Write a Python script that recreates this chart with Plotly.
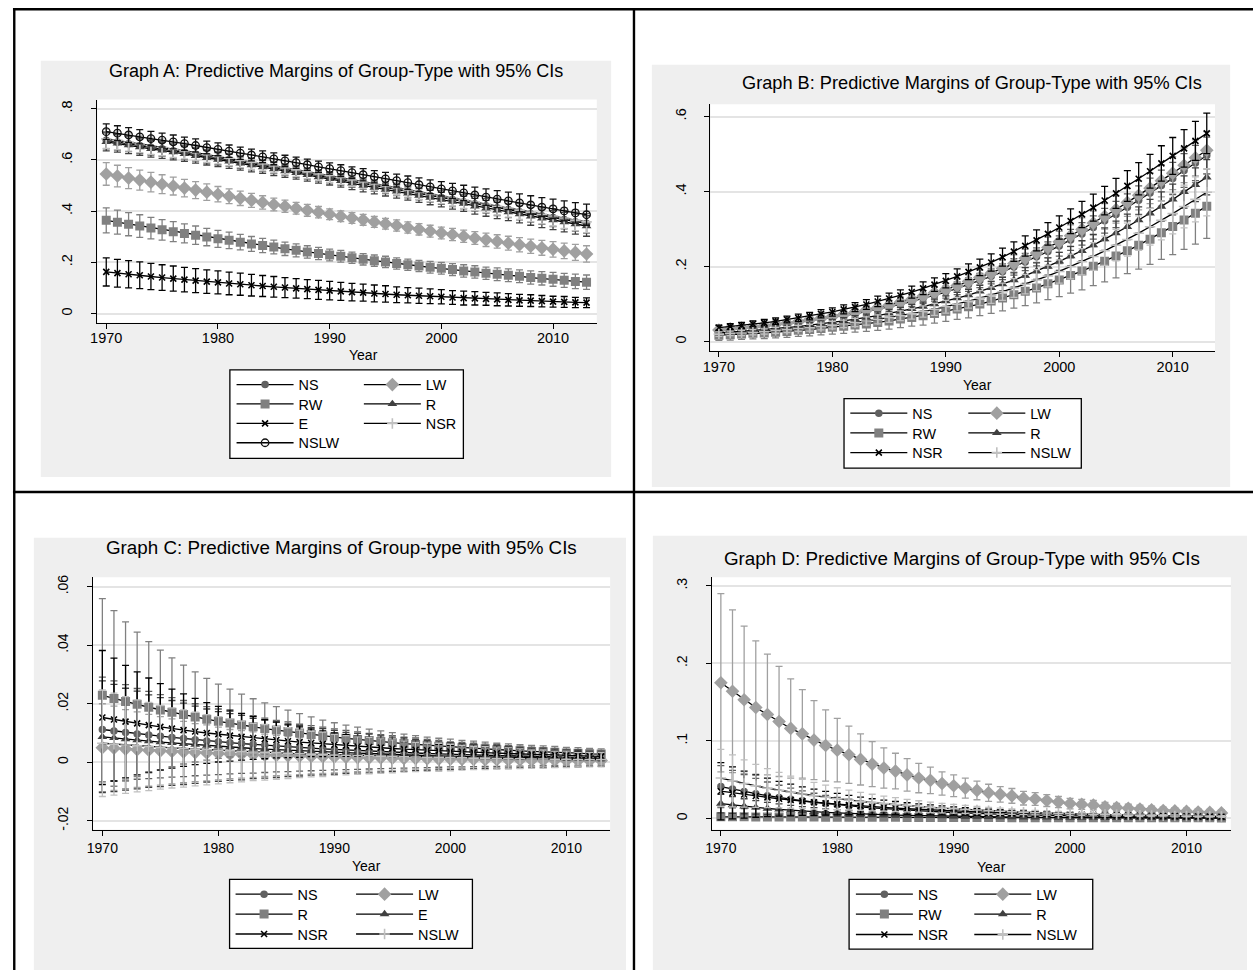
import plotly.graph_objects as go

W, H = 1253, 971
FONT = "Liberation Sans, Arial, Helvetica, sans-serif"

YEARS = list(range(1970, 2014))
X_TICKS = [1970, 1980, 1990, 2000, 2010]
X_TICKTEXT = ["1970", "1980", "1990", "2000", "2010"]

# ---------------- Graph A ----------------
A_NAMES = ["NS", "LW", "RW", "R", "E", "NSR", "NSLW"]
A_NS = [0.676,0.670,0.663,0.656,0.649,0.643,0.636,0.629,0.622,0.614,0.607,0.600,0.592,0.585,0.578,0.570,0.562,0.555,0.547,0.539,0.532,0.524,0.516,0.508,0.500,0.492,0.485,0.477,0.469,0.461,0.453,0.445,0.437,0.429,0.421,0.413,0.406,0.398,0.390,0.382,0.375,0.367,0.359,0.352]
A_NS_CI = [0.033,0.032,0.031,0.031,0.030,0.029,0.029,0.028,0.027,0.027,0.026,0.025,0.025,0.024,0.024,0.023,0.023,0.023,0.022,0.022,0.022,0.022,0.023,0.023,0.023,0.024,0.024,0.025,0.025,0.026,0.027,0.027,0.028,0.029,0.029,0.030,0.031,0.032,0.033,0.034,0.035,0.036,0.037,0.038]
A_LW = [0.545,0.537,0.529,0.521,0.513,0.505,0.498,0.490,0.482,0.474,0.466,0.458,0.450,0.442,0.434,0.426,0.419,0.411,0.403,0.396,0.388,0.380,0.373,0.366,0.358,0.351,0.344,0.336,0.329,0.322,0.315,0.309,0.302,0.295,0.288,0.282,0.275,0.269,0.263,0.257,0.251,0.245,0.239,0.233]
A_LW_CI = [0.044,0.042,0.041,0.039,0.038,0.037,0.035,0.034,0.033,0.032,0.030,0.029,0.028,0.027,0.026,0.025,0.024,0.023,0.023,0.022,0.021,0.021,0.021,0.021,0.021,0.021,0.022,0.022,0.022,0.023,0.023,0.024,0.024,0.025,0.026,0.026,0.027,0.028,0.028,0.029,0.030,0.030,0.031,0.032]
A_RW = [0.364,0.357,0.349,0.342,0.334,0.327,0.320,0.313,0.306,0.299,0.292,0.286,0.279,0.272,0.266,0.260,0.253,0.247,0.241,0.235,0.229,0.224,0.218,0.212,0.207,0.202,0.196,0.191,0.186,0.181,0.177,0.172,0.167,0.163,0.158,0.154,0.150,0.146,0.141,0.138,0.134,0.130,0.126,0.123]
A_RW_CI = [0.049,0.047,0.045,0.044,0.042,0.040,0.039,0.037,0.036,0.034,0.033,0.032,0.030,0.029,0.028,0.027,0.026,0.025,0.024,0.024,0.023,0.023,0.022,0.022,0.022,0.022,0.022,0.022,0.022,0.023,0.023,0.023,0.024,0.024,0.024,0.025,0.025,0.025,0.026,0.026,0.027,0.027,0.028,0.028]
A_R = [0.670,0.664,0.657,0.650,0.643,0.637,0.630,0.623,0.616,0.608,0.601,0.594,0.586,0.579,0.572,0.564,0.556,0.549,0.541,0.533,0.526,0.518,0.508,0.500,0.492,0.484,0.477,0.469,0.461,0.453,0.445,0.437,0.429,0.419,0.411,0.403,0.396,0.388,0.380,0.372,0.365,0.357,0.349,0.342]
A_R_CI = [0.035,0.034,0.033,0.032,0.032,0.031,0.030,0.029,0.029,0.028,0.027,0.027,0.026,0.026,0.025,0.025,0.024,0.024,0.024,0.024,0.024,0.024,0.024,0.025,0.025,0.025,0.026,0.026,0.027,0.028,0.028,0.029,0.030,0.031,0.031,0.032,0.033,0.034,0.035,0.036,0.037,0.038,0.039,0.040]
A_E = [0.163,0.158,0.154,0.150,0.145,0.141,0.137,0.133,0.129,0.125,0.122,0.118,0.115,0.111,0.108,0.105,0.102,0.099,0.096,0.093,0.090,0.087,0.084,0.082,0.079,0.077,0.074,0.072,0.070,0.068,0.066,0.063,0.061,0.060,0.058,0.056,0.054,0.052,0.051,0.049,0.047,0.046,0.044,0.043]
A_E_CI = [0.055,0.054,0.053,0.052,0.051,0.050,0.049,0.048,0.047,0.046,0.045,0.044,0.043,0.042,0.041,0.040,0.039,0.038,0.037,0.037,0.036,0.035,0.034,0.033,0.033,0.032,0.031,0.030,0.030,0.029,0.028,0.027,0.027,0.026,0.025,0.025,0.024,0.023,0.023,0.022,0.021,0.021,0.020,0.019]
A_NSR = [0.682,0.676,0.669,0.662,0.655,0.649,0.642,0.635,0.628,0.620,0.613,0.606,0.598,0.591,0.584,0.576,0.568,0.561,0.553,0.545,0.538,0.530,0.522,0.514,0.506,0.498,0.491,0.483,0.475,0.467,0.459,0.451,0.443,0.435,0.427,0.419,0.412,0.404,0.396,0.388,0.381,0.373,0.365,0.358]
A_NSR_CI = [0.037,0.036,0.035,0.034,0.034,0.033,0.032,0.031,0.031,0.030,0.029,0.029,0.028,0.028,0.027,0.027,0.026,0.026,0.026,0.026,0.026,0.026,0.026,0.027,0.027,0.027,0.028,0.028,0.029,0.030,0.030,0.031,0.032,0.033,0.033,0.034,0.035,0.036,0.037,0.038,0.039,0.040,0.041,0.042]
A_NSLW = [0.710,0.704,0.697,0.690,0.683,0.677,0.670,0.663,0.656,0.648,0.641,0.634,0.626,0.619,0.612,0.604,0.596,0.589,0.581,0.573,0.566,0.558,0.550,0.542,0.534,0.526,0.519,0.511,0.503,0.495,0.487,0.479,0.471,0.463,0.455,0.447,0.440,0.432,0.424,0.416,0.409,0.401,0.393,0.386]
A_NSLW_CI = [0.030,0.029,0.029,0.028,0.028,0.027,0.027,0.026,0.026,0.025,0.025,0.024,0.024,0.023,0.023,0.023,0.022,0.022,0.022,0.022,0.022,0.023,0.023,0.024,0.024,0.025,0.025,0.026,0.027,0.027,0.028,0.029,0.030,0.031,0.032,0.033,0.034,0.035,0.036,0.037,0.038,0.039,0.040,0.041]

# ---------------- Graph B ----------------
B_NAMES = ["NS", "LW", "RW", "R", "NSR", "NSLW"]
B_NS = [0.029,0.032,0.034,0.037,0.040,0.043,0.047,0.051,0.055,0.059,0.064,0.069,0.074,0.080,0.086,0.092,0.099,0.107,0.115,0.123,0.132,0.142,0.152,0.163,0.174,0.186,0.199,0.212,0.226,0.240,0.255,0.271,0.287,0.304,0.322,0.339,0.358,0.377,0.396,0.416,0.435,0.456,0.476,0.496]
B_NS_CI = [0.007,0.007,0.007,0.007,0.008,0.008,0.008,0.009,0.009,0.009,0.010,0.010,0.011,0.011,0.012,0.012,0.013,0.014,0.014,0.015,0.016,0.017,0.018,0.019,0.020,0.021,0.022,0.023,0.024,0.026,0.027,0.028,0.030,0.031,0.033,0.035,0.036,0.038,0.040,0.041,0.043,0.045,0.047,0.049]
B_LW = [0.031,0.034,0.036,0.039,0.042,0.046,0.049,0.053,0.058,0.062,0.067,0.072,0.078,0.084,0.090,0.097,0.105,0.112,0.121,0.130,0.139,0.149,0.160,0.171,0.182,0.195,0.208,0.222,0.236,0.251,0.266,0.282,0.299,0.316,0.334,0.352,0.371,0.390,0.409,0.429,0.449,0.470,0.490,0.510]
B_LW_CI = [0.007,0.007,0.007,0.008,0.008,0.008,0.008,0.009,0.009,0.010,0.010,0.011,0.011,0.012,0.012,0.013,0.014,0.014,0.015,0.016,0.017,0.017,0.018,0.019,0.020,0.022,0.023,0.024,0.025,0.027,0.028,0.029,0.031,0.032,0.034,0.036,0.037,0.039,0.041,0.043,0.044,0.046,0.048,0.050]
B_RW = [0.017,0.018,0.020,0.022,0.023,0.025,0.027,0.030,0.032,0.035,0.038,0.041,0.044,0.047,0.051,0.055,0.060,0.064,0.069,0.075,0.081,0.087,0.093,0.100,0.108,0.116,0.125,0.134,0.143,0.154,0.164,0.176,0.188,0.201,0.214,0.228,0.242,0.257,0.273,0.290,0.307,0.324,0.342,0.361]
B_RW_CI = [0.014,0.014,0.014,0.015,0.015,0.015,0.016,0.016,0.017,0.017,0.018,0.019,0.019,0.020,0.021,0.022,0.023,0.023,0.025,0.026,0.027,0.028,0.030,0.031,0.033,0.034,0.036,0.038,0.040,0.042,0.044,0.047,0.050,0.052,0.055,0.058,0.061,0.064,0.067,0.071,0.075,0.078,0.082,0.086]
B_R = [0.023,0.025,0.027,0.030,0.032,0.035,0.037,0.040,0.044,0.047,0.051,0.055,0.060,0.064,0.069,0.075,0.080,0.087,0.093,0.100,0.108,0.116,0.124,0.134,0.143,0.153,0.164,0.176,0.188,0.200,0.214,0.228,0.242,0.257,0.273,0.289,0.306,0.324,0.342,0.360,0.379,0.399,0.418,0.438]
B_R_CI = [0.005,0.006,0.006,0.006,0.006,0.007,0.007,0.007,0.007,0.008,0.008,0.009,0.009,0.009,0.010,0.011,0.011,0.012,0.012,0.013,0.014,0.015,0.015,0.016,0.017,0.018,0.019,0.021,0.022,0.023,0.024,0.026,0.027,0.029,0.030,0.032,0.034,0.035,0.037,0.039,0.041,0.043,0.045,0.047]
B_NSR = [0.037,0.040,0.043,0.047,0.050,0.054,0.059,0.063,0.068,0.074,0.079,0.086,0.092,0.099,0.107,0.115,0.123,0.132,0.142,0.152,0.162,0.174,0.186,0.198,0.211,0.225,0.240,0.255,0.270,0.287,0.304,0.321,0.339,0.357,0.376,0.395,0.415,0.434,0.454,0.475,0.495,0.515,0.535,0.555]
B_NSR_CI = [0.007,0.008,0.008,0.008,0.009,0.009,0.009,0.010,0.010,0.011,0.011,0.012,0.012,0.013,0.014,0.014,0.015,0.016,0.017,0.018,0.019,0.020,0.021,0.022,0.023,0.024,0.026,0.027,0.028,0.030,0.031,0.033,0.035,0.036,0.038,0.040,0.041,0.043,0.045,0.047,0.049,0.050,0.052,0.054]
B_NSLW = [0.020,0.022,0.023,0.025,0.027,0.030,0.032,0.035,0.037,0.040,0.044,0.047,0.051,0.055,0.059,0.064,0.069,0.074,0.080,0.086,0.093,0.100,0.108,0.116,0.124,0.133,0.143,0.153,0.164,0.175,0.187,0.200,0.213,0.227,0.242,0.257,0.272,0.289,0.306,0.323,0.341,0.360,0.379,0.398]
B_NSLW_CI = [0.006,0.006,0.007,0.007,0.007,0.008,0.008,0.008,0.009,0.009,0.010,0.010,0.011,0.011,0.012,0.013,0.013,0.014,0.015,0.016,0.017,0.018,0.019,0.020,0.022,0.023,0.025,0.026,0.028,0.029,0.031,0.033,0.035,0.037,0.039,0.042,0.044,0.046,0.049,0.052,0.054,0.057,0.060,0.063]

# ---------------- Graph C ----------------
C_NAMES = ["NS", "LW", "R", "E", "NSR", "NSLW"]
C_NS = [0.0112,0.0107,0.0102,0.0097,0.0093,0.0089,0.0085,0.0081,0.0077,0.0073,0.0070,0.0067,0.0064,0.0061,0.0058,0.0055,0.0053,0.0050,0.0048,0.0046,0.0044,0.0042,0.0040,0.0038,0.0036,0.0035,0.0033,0.0032,0.0030,0.0029,0.0027,0.0026,0.0025,0.0024,0.0023,0.0022,0.0021,0.0020,0.0019,0.0018,0.0017,0.0016,0.0016,0.0015]
C_NS_CI = [0.0179,0.0171,0.0163,0.0155,0.0149,0.0142,0.0136,0.0130,0.0123,0.0117,0.0112,0.0107,0.0102,0.0098,0.0093,0.0088,0.0085,0.0080,0.0077,0.0074,0.0070,0.0067,0.0064,0.0061,0.0058,0.0056,0.0053,0.0051,0.0048,0.0046,0.0043,0.0042,0.0040,0.0038,0.0037,0.0035,0.0034,0.0032,0.0030,0.0029,0.0027,0.0026,0.0026,0.0024]
C_LW = [0.0050,0.0048,0.0045,0.0043,0.0041,0.0039,0.0037,0.0035,0.0033,0.0032,0.0030,0.0028,0.0027,0.0026,0.0024,0.0023,0.0022,0.0021,0.0020,0.0019,0.0018,0.0017,0.0016,0.0015,0.0015,0.0014,0.0013,0.0013,0.0012,0.0011,0.0011,0.0010,0.0010,0.0009,0.0009,0.0008,0.0008,0.0007,0.0007,0.0007,0.0006,0.0006,0.0006,0.0006]
C_LW_CI = [0.0150,0.0144,0.0135,0.0129,0.0123,0.0117,0.0111,0.0105,0.0099,0.0096,0.0090,0.0084,0.0081,0.0078,0.0072,0.0069,0.0066,0.0063,0.0060,0.0057,0.0054,0.0051,0.0048,0.0045,0.0045,0.0042,0.0039,0.0039,0.0036,0.0033,0.0033,0.0030,0.0030,0.0027,0.0027,0.0024,0.0024,0.0021,0.0021,0.0021,0.0018,0.0018,0.0018,0.0018]
C_R = [0.0229,0.0218,0.0208,0.0198,0.0188,0.0179,0.0171,0.0163,0.0155,0.0147,0.0140,0.0134,0.0127,0.0121,0.0115,0.0110,0.0105,0.0100,0.0095,0.0090,0.0086,0.0082,0.0078,0.0074,0.0071,0.0067,0.0064,0.0061,0.0058,0.0055,0.0053,0.0050,0.0048,0.0046,0.0043,0.0041,0.0039,0.0037,0.0036,0.0034,0.0032,0.0031,0.0029,0.0028]
C_R_CI = [0.0330,0.0300,0.0272,0.0247,0.0224,0.0204,0.0186,0.0169,0.0154,0.0140,0.0127,0.0116,0.0106,0.0096,0.0088,0.0080,0.0073,0.0066,0.0060,0.0054,0.0049,0.0045,0.0042,0.0039,0.0036,0.0034,0.0032,0.0030,0.0028,0.0027,0.0026,0.0025,0.0024,0.0023,0.0022,0.0022,0.0021,0.0021,0.0020,0.0020,0.0019,0.0019,0.0018,0.0018]
C_E = [0.0087,0.0083,0.0079,0.0076,0.0072,0.0069,0.0066,0.0063,0.0060,0.0057,0.0054,0.0052,0.0050,0.0047,0.0045,0.0043,0.0041,0.0039,0.0037,0.0036,0.0034,0.0032,0.0031,0.0030,0.0028,0.0027,0.0026,0.0024,0.0023,0.0022,0.0021,0.0020,0.0019,0.0018,0.0018,0.0017,0.0016,0.0015,0.0015,0.0014,0.0013,0.0013,0.0012,0.0012]
C_E_CI = [0.0191,0.0183,0.0174,0.0167,0.0158,0.0152,0.0145,0.0139,0.0132,0.0125,0.0119,0.0114,0.0110,0.0103,0.0099,0.0095,0.0090,0.0086,0.0081,0.0079,0.0075,0.0070,0.0068,0.0066,0.0062,0.0059,0.0057,0.0053,0.0051,0.0048,0.0046,0.0044,0.0042,0.0040,0.0040,0.0037,0.0035,0.0033,0.0033,0.0031,0.0029,0.0029,0.0026,0.0026]
C_NSR = [0.0153,0.0146,0.0139,0.0133,0.0127,0.0121,0.0115,0.0110,0.0105,0.0100,0.0096,0.0091,0.0087,0.0083,0.0079,0.0076,0.0072,0.0069,0.0066,0.0063,0.0060,0.0057,0.0054,0.0052,0.0050,0.0047,0.0045,0.0043,0.0041,0.0039,0.0037,0.0036,0.0034,0.0033,0.0031,0.0030,0.0028,0.0027,0.0026,0.0025,0.0023,0.0022,0.0021,0.0020]
C_NSR_CI = [0.0229,0.0210,0.0192,0.0176,0.0161,0.0148,0.0135,0.0124,0.0113,0.0104,0.0095,0.0087,0.0080,0.0073,0.0067,0.0061,0.0056,0.0052,0.0047,0.0044,0.0040,0.0037,0.0034,0.0032,0.0030,0.0028,0.0026,0.0025,0.0023,0.0022,0.0021,0.0020,0.0019,0.0018,0.0018,0.0017,0.0017,0.0016,0.0016,0.0015,0.0015,0.0015,0.0014,0.0014]
C_NSLW = [0.0065,0.0062,0.0059,0.0056,0.0054,0.0051,0.0049,0.0047,0.0045,0.0043,0.0041,0.0039,0.0037,0.0035,0.0034,0.0032,0.0031,0.0029,0.0028,0.0027,0.0025,0.0024,0.0023,0.0022,0.0021,0.0020,0.0019,0.0018,0.0017,0.0017,0.0016,0.0015,0.0014,0.0014,0.0013,0.0013,0.0012,0.0011,0.0011,0.0010,0.0010,0.0009,0.0009,0.0009]
C_NSLW_CI = [0.0182,0.0174,0.0165,0.0157,0.0151,0.0143,0.0137,0.0132,0.0126,0.0120,0.0115,0.0109,0.0104,0.0098,0.0095,0.0090,0.0087,0.0081,0.0078,0.0076,0.0070,0.0067,0.0064,0.0062,0.0059,0.0056,0.0053,0.0050,0.0048,0.0048,0.0045,0.0042,0.0039,0.0039,0.0036,0.0036,0.0034,0.0031,0.0031,0.0028,0.0028,0.0025,0.0025,0.0025]

# ---------------- Graph D ----------------
D_NAMES = ["NS", "LW", "RW", "R", "NSR", "NSLW"]
D_NS = [0.0410,0.0377,0.0346,0.0318,0.0292,0.0268,0.0246,0.0226,0.0208,0.0191,0.0175,0.0161,0.0148,0.0136,0.0125,0.0115,0.0105,0.0097,0.0089,0.0082,0.0075,0.0069,0.0063,0.0058,0.0053,0.0049,0.0045,0.0041,0.0038,0.0035,0.0032,0.0029,0.0027,0.0025,0.0023,0.0021,0.0019,0.0018,0.0016,0.0015,0.0014,0.0013,0.0012,0.0011]
D_NS_CI = [0.0270,0.0243,0.0219,0.0197,0.0177,0.0159,0.0143,0.0129,0.0116,0.0105,0.0094,0.0085,0.0076,0.0069,0.0062,0.0056,0.0050,0.0045,0.0041,0.0036,0.0033,0.0030,0.0027,0.0024,0.0022,0.0019,0.0017,0.0016,0.0014,0.0013,0.0011,0.0010,0.0009,0.0008,0.0008,0.0007,0.0006,0.0005,0.0005,0.0004,0.0004,0.0004,0.0003,0.0003]
D_LW = [0.175,0.164,0.153,0.143,0.134,0.125,0.116,0.109,0.101,0.094,0.088,0.082,0.076,0.070,0.065,0.061,0.056,0.052,0.049,0.045,0.042,0.039,0.036,0.033,0.031,0.029,0.026,0.025,0.023,0.021,0.019,0.018,0.017,0.015,0.014,0.013,0.012,0.011,0.010,0.0096,0.0089,0.0082,0.0076,0.0070]
D_LW_CI = [0.115,0.105,0.095,0.086,0.078,0.071,0.064,0.057,0.051,0.046,0.041,0.037,0.033,0.029,0.026,0.023,0.021,0.019,0.017,0.015,0.014,0.013,0.012,0.011,0.010,0.0095,0.0088,0.0082,0.0077,0.0072,0.0068,0.0064,0.0060,0.0057,0.0054,0.0052,0.0049,0.0047,0.0045,0.0043,0.0042,0.0041,0.0040,0.0039]
D_RW = [0.0020,0.0019,0.0019,0.0018,0.0018,0.0017,0.0017,0.0016,0.0016,0.0015,0.0015,0.0014,0.0014,0.0013,0.0013,0.0013,0.0012,0.0012,0.0012,0.0011,0.0011,0.0011,0.0010,0.0010,0.0010,0.0009,0.0009,0.0009,0.0009,0.0008,0.0008,0.0008,0.0008,0.0007,0.0007,0.0007,0.0007,0.0006,0.0006,0.0006,0.0006,0.0006,0.0006,0.0005]
D_RW_CI = [0.0025,0.0024,0.0024,0.0023,0.0022,0.0021,0.0021,0.0020,0.0020,0.0019,0.0018,0.0018,0.0017,0.0017,0.0016,0.0016,0.0015,0.0015,0.0014,0.0014,0.0014,0.0013,0.0013,0.0012,0.0012,0.0012,0.0011,0.0011,0.0011,0.0010,0.0010,0.0010,0.0009,0.0009,0.0009,0.0009,0.0008,0.0008,0.0008,0.0008,0.0007,0.0007,0.0007,0.0007]
D_R = [0.0190,0.0172,0.0156,0.0141,0.0127,0.0115,0.0104,0.0094,0.0085,0.0077,0.0070,0.0063,0.0057,0.0052,0.0047,0.0042,0.0038,0.0035,0.0031,0.0028,0.0026,0.0023,0.0021,0.0019,0.0017,0.0016,0.0014,0.0013,0.0012,0.0010,0.0009,0.0009,0.0008,0.0007,0.0006,0.0006,0.0005,0.0005,0.0004,0.0004,0.0003,0.0003,0.0003,0.0003]
D_R_CI = [0.0120,0.0108,0.0097,0.0087,0.0079,0.0071,0.0064,0.0057,0.0052,0.0046,0.0042,0.0038,0.0034,0.0031,0.0027,0.0025,0.0022,0.0020,0.0018,0.0016,0.0015,0.0013,0.0012,0.0011,0.0010,0.0009,0.0008,0.0007,0.0006,0.0006,0.0005,0.0005,0.0004,0.0004,0.0003,0.0003,0.0003,0.0002,0.0002,0.0002,0.0002,0.0002,0.0001,0.0001]
D_NSR = [0.0350,0.0328,0.0307,0.0288,0.0270,0.0253,0.0237,0.0222,0.0208,0.0195,0.0183,0.0171,0.0161,0.0150,0.0141,0.0132,0.0124,0.0116,0.0109,0.0102,0.0095,0.0089,0.0084,0.0079,0.0074,0.0069,0.0065,0.0061,0.0057,0.0053,0.0050,0.0047,0.0044,0.0041,0.0038,0.0036,0.0034,0.0032,0.0030,0.0028,0.0026,0.0024,0.0023,0.0021]
D_NSR_CI = [0.0370,0.0335,0.0303,0.0274,0.0248,0.0225,0.0204,0.0185,0.0168,0.0152,0.0138,0.0125,0.0114,0.0103,0.0094,0.0085,0.0077,0.0070,0.0064,0.0058,0.0053,0.0048,0.0044,0.0040,0.0036,0.0033,0.0030,0.0028,0.0025,0.0023,0.0021,0.0019,0.0018,0.0016,0.0015,0.0014,0.0013,0.0012,0.0011,0.0010,0.0010,0.0009,0.0009,0.0008]
D_NSLW = [0.0520,0.0484,0.0450,0.0419,0.0390,0.0363,0.0338,0.0314,0.0292,0.0272,0.0253,0.0235,0.0219,0.0204,0.0190,0.0177,0.0164,0.0153,0.0142,0.0132,0.0123,0.0115,0.0107,0.0099,0.0092,0.0086,0.0080,0.0074,0.0069,0.0064,0.0060,0.0056,0.0052,0.0048,0.0045,0.0042,0.0039,0.0036,0.0034,0.0031,0.0029,0.0027,0.0025,0.0024]
D_NSLW_CI = [0.0370,0.0336,0.0305,0.0277,0.0252,0.0229,0.0208,0.0189,0.0172,0.0156,0.0142,0.0129,0.0117,0.0107,0.0097,0.0089,0.0081,0.0074,0.0067,0.0061,0.0056,0.0051,0.0047,0.0043,0.0039,0.0036,0.0033,0.0030,0.0028,0.0026,0.0024,0.0022,0.0020,0.0019,0.0017,0.0016,0.0015,0.0014,0.0013,0.0012,0.0011,0.0011,0.0010,0.0010]

# ---------------- styles (Stata s2mono-like, by plot position) ----------------
MARKERS = [
    dict(symbol="circle", size=7.5, color="#606060"),
    dict(symbol="diamond", size=10.5, color="#a0a0a0"),
    dict(symbol="square", size=9, color="#808080"),
    dict(symbol="triangle-up", size=8.5, color="#404040"),
    dict(symbol="x-thin", size=6, color="#000000", line=dict(color="#000000", width=1.6)),
    dict(symbol="cross-thin", size=7.5, color="#c0c0c0", line=dict(color="#c0c0c0", width=1.6)),
    dict(symbol="circle-open", size=7.5, color="#111111", line=dict(color="#111111", width=1.3)),
]
CI_COLORS = ["#606060", "#a0a0a0", "#808080", "#404040", "#000000", "#c0c0c0", "#111111"]

PANELS = [
    dict(names=A_NAMES,
         est=[A_NS, A_LW, A_RW, A_R, A_E, A_NSR, A_NSLW],
         ci=[A_NS_CI, A_LW_CI, A_RW_CI, A_R_CI, A_E_CI, A_NSR_CI, A_NSLW_CI],
         title="Graph A: Predictive Margins of Group-Type with 95% CIs", tpos=(330, 68.5), tsize=18,
         grey=(33, 58, 607, 476), plot=(90, 97, 592.6, 321),
         xr=[1969.21, 2013.92], yr=[-0.035, 0.835],
         yt=[0, 0.2, 0.4, 0.6, 0.8], ytt=["0", ".2", ".4", ".6", ".8"], tick=14.5, xstand=-3,
         ytitle=(357.6, 353), legbox=(223.3, 368.3, 458.3, 457.3), legx=225,
         rows=[383.3, 402.7, 422.3, 441.7], entry=55.3),
    dict(names=B_NAMES,
         est=[B_NS, B_LW, B_RW, B_R, B_NSR, B_NSLW],
         ci=[B_NS_CI, B_LW_CI, B_RW_CI, B_R_CI, B_NSR_CI, B_NSLW_CI],
         title="Graph B: Predictive Margins of Group-Type with 95% CIs", tpos=(970, 80), tsize=18.2,
         grey=(648, 62, 1230, 486), plot=(707, 101.7, 1214.8, 349.3),
         xr=[1969.26, 2013.73], yr=[-0.0247, 0.6326],
         yt=[0, 0.2, 0.4, 0.6], ytt=["0", ".2", ".4", ".6"], tick=14.5, xstand=-2,
         ytitle=(976, 383.3), legbox=(841.4, 397.3, 1080.2, 467), legx=842.7,
         rows=[412, 431.8, 451.6], entry=46),
    dict(names=C_NAMES,
         est=[C_NS, C_LW, C_R, C_E, C_NSR, C_NSLW],
         ci=[C_NS_CI, C_LW_CI, C_R_CI, C_E_CI, C_NSR_CI, C_NSLW_CI],
         title="Graph C: Predictive Margins of Group-type with 95% CIs", tpos=(336, 546.7), tsize=18.8,
         grey=(26, 537, 622, 971), plot=(85.5, 576.7, 606, 830),
         xr=[1969.19, 2013.77], yr=[-0.0230, 0.0632],
         yt=[-0.02, 0, 0.02, 0.04, 0.06], ytt=["-.02", "0", ".02", ".04", ".06"], tick=14, xstand=0,
         ytitle=(361, 866.7), legbox=(223, 880, 467.4, 949.3), legx=224,
         rows=[895, 915, 935], entry=48.5),
    dict(names=D_NAMES,
         est=[D_NS, D_LW, D_RW, D_R, D_NSR, D_NSLW],
         ci=[D_NS_CI, D_LW_CI, D_RW_CI, D_R_CI, D_NSR_CI, D_NSLW_CI],
         title="Graph D: Predictive Margins of Group-Type with 95% CIs", tpos=(960, 557.5), tsize=18.8,
         grey=(649, 535, 1247, 971), plot=(708.3, 576.7, 1230.7, 830),
         xr=[1969.22, 2013.81], yr=[-0.0145, 0.311],
         yt=[0, 0.1, 0.2, 0.3], ytt=["0", ".1", ".2", ".3"], tick=14, xstand=0,
         ytitle=(990, 867.7), legbox=(846.5, 880, 1091.7, 950), legx=848.3,
         rows=[895, 915, 935.5], entry=46.4),
]


def fx(px):
    return px / W


def fy(py):
    return 1 - py / H


fig = go.Figure()
shapes, annotations, layout_extra = [], [], {}

# black table rules
RULE = dict(color="black", width=2.4)
for (x0, y0, x1, y1) in [(5, 6.3, 1253, 6.3), (6.3, 5, 6.3, 971), (630, 5, 630, 971), (5, 491, 1253, 491)]:
    shapes.append(dict(type="line", xref="paper", yref="paper", x0=fx(x0), x1=fx(x1),
                       y0=fy(y0), y1=fy(y1), line=RULE, layer="above"))

leg_counter = 0
for k, P in enumerate(PANELS):
    sfx = "" if k == 0 else str(k + 1)
    xref, yref = "x" + sfx, "y" + sfx

    gx0, gy0, gx1, gy1 = P["grey"]
    shapes.append(dict(type="rect", xref="paper", yref="paper", x0=fx(gx0), x1=fx(gx1),
                       y0=fy(gy1), y1=fy(gy0), fillcolor="#efefef", line=dict(width=0), layer="below"))
    shapes.append(dict(type="rect", xref=xref + " domain", yref=yref + " domain", x0=0, x1=1, y0=0, y1=1,
                       fillcolor="white", line=dict(width=0), layer="below"))
    lx0, ly0, lx1, ly1 = P["legbox"]
    shapes.append(dict(type="rect", xref="paper", yref="paper", x0=fx(lx0), x1=fx(lx1),
                       y0=fy(ly1), y1=fy(ly0), fillcolor="white",
                       line=dict(color="black", width=1.3), layer="below"))

    px0, py0, px1, py1 = P["plot"]
    layout_extra["xaxis" + sfx] = dict(
        domain=[fx(px0), fx(px1)], range=P["xr"], anchor=yref,
        showline=True, linecolor="black", linewidth=1.3,
        ticks="outside", ticklen=5, tickwidth=1.3, tickcolor="black",
        tickvals=X_TICKS, ticktext=X_TICKTEXT, ticklabelstandoff=P["xstand"],
        tickfont=dict(size=P["tick"], color="black", family=FONT),
        showgrid=False, zeroline=False, fixedrange=True)
    layout_extra["yaxis" + sfx] = dict(
        domain=[fy(py1), fy(py0)], range=P["yr"], anchor=xref,
        showline=True, linecolor="black", linewidth=1.3,
        ticks="outside", ticklen=5, tickwidth=1.3, tickcolor="black",
        tickvals=P["yt"], ticktext=P["ytt"], tickangle=-90, ticklabelstandoff=13,
        tickfont=dict(size=P["tick"], color="black", family=FONT),
        showgrid=True, gridcolor="#e4e4e4", gridwidth=1.6, zeroline=False, fixedrange=True)

    tx, ty = P["tpos"]
    annotations.append(dict(text=P["title"], x=fx(tx), y=fy(ty), xref="paper", yref="paper",
                            xanchor="center", yanchor="middle", showarrow=False,
                            font=dict(size=P["tsize"], color="black", family=FONT)))
    ax_, ay_ = P["ytitle"]
    annotations.append(dict(text="Year", x=fx(ax_), y=fy(ay_), xref="paper", yref="paper",
                            xanchor="center", yanchor="middle", showarrow=False,
                            font=dict(size=14, color="black", family=FONT)))

    # one horizontal legend per legend row (two entries each)
    row_ids = []
    for r, rowy in enumerate(P["rows"]):
        leg_counter += 1
        lid = "legend" if leg_counter == 1 else "legend%d" % leg_counter
        row_ids.append(lid)
        layout_extra[lid] = dict(
            orientation="h", x=fx(P["legx"]), y=fy(rowy), xanchor="left", yanchor="middle",
            bgcolor="rgba(0,0,0,0)", borderwidth=0, itemwidth=57,
            entrywidth=P["entry"], entrywidthmode="pixels", traceorder="normal",
            font=dict(size=14.4, color="black", family=FONT), itemclick=False, itemdoubleclick=False)

    for i, (name, est, ci) in enumerate(zip(P["names"], P["est"], P["ci"])):
        fig.add_trace(go.Scatter(
            x=YEARS, y=est, name=name, mode="lines+markers",
            line=dict(color="black", width=1.3), marker=MARKERS[i],
            error_y=dict(type="data", array=ci, symmetric=True, color=CI_COLORS[i], thickness=1.3, width=3.5),
            xaxis=xref, yaxis=yref, legend=row_ids[i // 2], hoverinfo="skip"))

fig.update_layout(
    width=W, height=H, autosize=False,
    margin=dict(l=0, r=0, t=0, b=0, pad=0),
    paper_bgcolor="white", plot_bgcolor="rgba(0,0,0,0)",
    font=dict(family=FONT, color="black"),
    shapes=shapes, annotations=annotations, hovermode=False,
    **layout_extra)

fig.write_html("out.html", config={"displayModeBar": False},
               post_script="document.body.style.margin='0';document.body.style.overflow='hidden';")
